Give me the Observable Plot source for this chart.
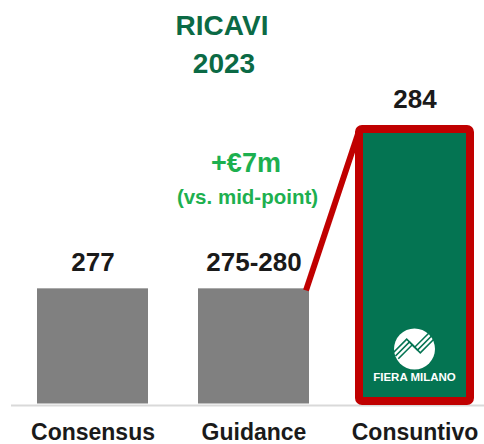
<!DOCTYPE html>
<html><head><meta charset="utf-8">
<script src="https://cdn.jsdelivr.net/npm/d3@7"></script>
<script src="https://cdn.jsdelivr.net/npm/@observablehq/plot@0.6"></script>
<style>body{margin:0;background:#fff}</style>
</head><body><div id="chart"></div>
<script>
const categories = ["Consensus", "Guidance", "Consuntivo"];
const values = [277, 277, 284];
const valueLabels = ["277", "275-280", "284"];
const titleLines = ["RICAVI", "2023"];
const deltaLabel = "+€7m";
const deltaNote = "(vs. mid-point)";
const logoText = "FIERA MILANO";
const yBase = 272;

const data = categories.map((c, i) => ({category: c, value: values[i], label: valueLabels[i]}));
const grayData = data.filter(d => d.category !== "Consuntivo");
const hiData = data.filter(d => d.category === "Consuntivo");

const FONT = "'Liberation Sans', Arial, Helvetica, sans-serif";
const DARKGREEN = "#0b6a45";
const BRIGHTGREEN = "#1db04f";
const BARGREEN = "#047452";
const RED = "#c00000";

function bw(x) { return typeof x.bandwidth === "function" ? x.bandwidth() : x.bandwidth; }

const connector = (index, {x, y}) => {
  const b = bw(x);
  const g = d3.create("svg:g");
  g.append("line")
    .attr("x1", x("Guidance") + b - 3).attr("y1", y(values[1]) + 2)
    .attr("x2", x("Consuntivo") + 1).attr("y2", y(values[2]) + 3)
    .attr("stroke", RED).attr("stroke-width", 6);
  return g.node();
};

const logo = (index, {x, y}) => {
  const b = bw(x);
  const cx = x("Consuntivo") + b / 2;
  const cy = y(yBase) - 56;
  const g = d3.create("svg:g").attr("transform", `translate(${cx},${cy})`);
  g.append("circle").attr("r", 20.5).attr("fill", "#fff");
  const pts = [[-19, 7], [-5, -7], [3, 1], [17, -13]];
  for (const o of [-4, 0, 4]) {
    g.append("polyline")
      .attr("points", pts.map(([a, c]) => `${a + o * 0.7},${c + o * 0.7}`).join(" "))
      .attr("fill", "none").attr("stroke", BARGREEN).attr("stroke-width", 1.6);
  }
  g.append("text").attr("y", 32).attr("text-anchor", "middle")
    .attr("font-family", FONT).attr("font-weight", "bold").attr("font-size", 11.5)
    .attr("fill", "#fff").text(logoText);
  return g.node();
};

const chart = Plot.plot({
  width: 484,
  height: 444,
  marginLeft: 11,
  marginRight: 0,
  marginTop: 0,
  marginBottom: 0,
  style: {fontFamily: FONT, background: "#fff"},
  x: {domain: categories, range: [36.5, 471], paddingInner: 0.3127, paddingOuter: 0, axis: null},
  y: {domain: [yBase, 284], range: [405, 125], axis: null},
  marks: [
    Plot.ruleY([yBase], {stroke: "#d9d9d9", strokeWidth: 2}),
    Plot.barY(grayData, {x: "category", y1: yBase, y2: "value", fill: "#808080", insetBottom: 1.5}),
    connector,
    Plot.barY(hiData, {x: "category", y1: yBase, y2: "value", fill: BARGREEN, stroke: RED, strokeWidth: 8, insetTop: 4, insetBottom: 4, rx: 3}),
    logo,
    Plot.text(data, {x: "category", y: "value", text: "label", dy: -26, fontSize: 26, fontWeight: "bold", fill: "#1a1a1a", lineAnchor: "middle"}),
    Plot.text(data, {x: "category", y: yBase, text: "category", dy: 27, fontSize: 23, fontWeight: "bold", fill: "#1a1a1a", lineAnchor: "middle"}),
    Plot.text([titleLines[0]], {frameAnchor: "top", text: d => d, dx: -26, dy: 26, fontSize: 28, fontWeight: "bold", fill: DARKGREEN, lineAnchor: "middle"}),
    Plot.text([titleLines[1]], {frameAnchor: "top", text: d => d, dx: -24, dy: 64, fontSize: 28, fontWeight: "bold", fill: DARKGREEN, lineAnchor: "middle"}),
    Plot.text([deltaLabel], {frameAnchor: "top", text: d => d, dx: -2, dy: 163, fontSize: 27, fontWeight: "bold", fill: BRIGHTGREEN, lineAnchor: "middle"}),
    Plot.text([deltaNote], {frameAnchor: "top", text: d => d, dx: -0.5, dy: 197, fontSize: 20.5, fontWeight: "bold", fill: BRIGHTGREEN, lineAnchor: "middle"})
  ]
});
document.getElementById("chart").append(chart);
</script>
</body></html>
